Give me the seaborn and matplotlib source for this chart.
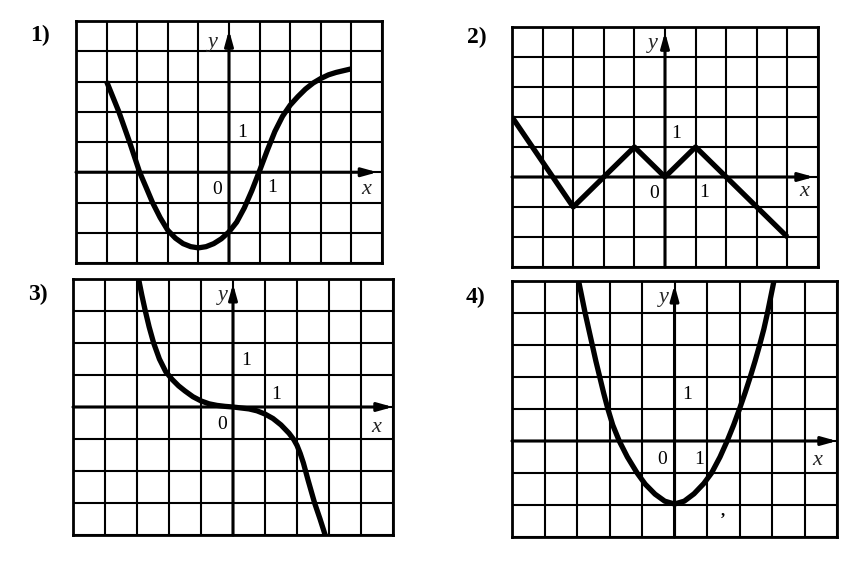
import matplotlib
matplotlib.use("Agg")
import matplotlib.pyplot as plt
import seaborn as sns

# Графики (единица = одна клетка)
p1_x = [-4.0, -3.6, -3.25, -2.92, -2.7, -2.5, -2.25, -2.0, -1.75, -1.5, -1.25, -1.0,
        -0.75, -0.5, -0.25, 0.0, 0.25, 0.5, 0.75, 1.0, 1.25, 1.5, 1.75, 2.0, 2.25,
        2.5, 2.75, 3.0, 3.25, 3.5, 3.75, 4.0]
p1_y = [3.0, 2.0, 1.0, 0.0, -0.52, -1.0, -1.5, -1.92, -2.18, -2.36, -2.46, -2.5,
        -2.46, -2.36, -2.2, -1.97, -1.65, -1.18, -0.6, 0.05, 0.72, 1.35, 1.85, 2.22, 2.5,
        2.75, 2.95, 3.1, 3.22, 3.3, 3.36, 3.42]

p2_x = [-5, -3, -1, 0, 1, 4]
p2_y = [2, -1, 1, 0, 1, -2]

p3_x = [-2.95, -2.85, -2.74, -2.62, -2.48, -2.3, -2.1, -1.9, -1.7, -1.5, -1.25, -1.0,
        -0.75, -0.5, -0.25, 0.0, 0.5, 0.75, 1.0, 1.25, 1.5, 1.75, 1.9, 2.0, 2.1, 2.2,
        2.35, 2.55, 2.72, 2.88]
p3_y = [4.0, 3.5, 3.0, 2.5, 2.0, 1.5, 1.1, 0.86, 0.66, 0.5, 0.32, 0.19,
        0.1, 0.05, 0.02, 0.0, -0.06, -0.12, -0.22, -0.36, -0.56, -0.82, -1.02, -1.2, -1.45, -1.75,
        -2.3, -3.0, -3.5, -4.0]

p4_x = [-2.95, -2.85, -2.75, -2.64, -2.53, -2.42, -2.3, -2.18, -2.05, -1.9, -1.7, -1.45,
        -1.15, -0.9, -0.6, -0.3, 0.0, 0.3, 0.6, 0.9, 1.14, 1.4, 1.62, 1.82, 2.0, 2.17,
        2.33, 2.48, 2.62, 2.75, 2.86, 2.96, 3.06]
p4_y = [5.0, 4.5, 4.0, 3.5, 3.0, 2.5, 2.0, 1.5, 1.0, 0.5, 0.0, -0.5,
        -1.0, -1.35, -1.66, -1.88, -1.97, -1.88, -1.65, -1.33, -1.0, -0.5, 0.0, 0.5, 1.0, 1.5,
        2.0, 2.5, 3.0, 3.5, 4.0, 4.5, 5.0]

panel_names = ["1)", "2)", "3)", "4)"]

sns.set_style("white")
plt.rcParams['font.family'] = ['Liberation Serif', 'DejaVu Serif']

W, H = 851, 581
fig = plt.figure(figsize=(W / 100, H / 100), dpi=100)


def make_panel(left, top, right, bottom, ylo, yhi):
    ax = fig.add_axes([left / W, 1 - bottom / H, (right - left) / W, (bottom - top) / H])
    ax.set_xlim(-5, 5)
    ax.set_ylim(ylo, yhi)
    ax.set_xticks(range(-5, 6))
    ax.set_yticks(range(ylo, yhi + 1))
    ax.grid(True, color="black", lw=1.5)
    ax.tick_params(length=0, labelbottom=False, labelleft=False)
    for s in ax.spines.values():
        s.set_color("black")
        s.set_linewidth(2)
    return ax


def axes_arrows(ax, xtip, ytip, ylo):
    arr = dict(arrowstyle="-|>,head_length=0.9,head_width=0.25", color="black",
               lw=2.2, shrinkA=0, shrinkB=0)
    ax.annotate("", xy=(xtip, 0), xytext=(-5, 0), arrowprops=arr)
    ax.annotate("", xy=(0, ytip), xytext=(0, ylo), arrowprops=arr)


def labels(ax, ypos, one_y, zero, one_x, xpos):
    kw = dict(fontsize=14, ha="center", va="center", color="black")
    ax.text(*ypos, "y", style="italic", fontsize=16, ha="center", va="center")
    ax.text(*xpos, "x", style="italic", fontsize=16, ha="center", va="center")
    ax.text(*one_y, "1", **kw)
    ax.text(*zero, "0", **kw)
    ax.text(*one_x, "1", **kw)


curve_kw = dict(color="black", lw=3.8, sort=False, estimator=None,
                solid_joinstyle="round", solid_capstyle="butt")

# 1)
ax1 = make_panel(76, 21, 382, 263, -3, 5)
axes_arrows(ax1, 4.85, 4.7, -3)
sns.lineplot(x=p1_x, y=p1_y, ax=ax1, **curve_kw)
labels(ax1, (-0.52, 4.3), (0.42, 1.3), (-0.39, -0.57), (1.4, -0.5), (4.5, -0.57))

# 2)
ax2 = make_panel(512, 27, 818, 267, -3, 5)
axes_arrows(ax2, 4.87, 4.83, -3)
sns.lineplot(x=p2_x, y=p2_y, ax=ax2, **curve_kw)
labels(ax2, (-0.4, 4.45), (0.38, 1.44), (-0.35, -0.55), (1.28, -0.53), (4.55, -0.5))

# 3)
ax3 = make_panel(73, 279, 393, 535, -4, 4)
axes_arrows(ax3, 5.0, 3.85, -4)
sns.lineplot(x=p3_x, y=p3_y, ax=ax3, **curve_kw)
labels(ax3, (-0.31, 3.47), (0.42, 1.44), (-0.34, -0.54), (1.35, 0.4), (4.48, -0.65))

# 4)
ax4 = make_panel(512, 281, 837, 537, -3, 5)
axes_arrows(ax4, 5.0, 4.88, -3)
sns.lineplot(x=p4_x, y=p4_y, ax=ax4, **curve_kw)
labels(ax4, (-0.34, 4.5), (0.38, 1.44), (-0.37, -0.57), (0.76, -0.57), (4.4, -0.6))
ax4.text(1.5, -2.2, ",", fontsize=12, fontweight="bold", ha="center", va="center", color="black")

label_pos = [(40, 35), (477, 37), (38, 294), (475, 297)]
for name, (px, py) in zip(panel_names, label_pos):
    fig.text(px / W, 1 - py / H, name, fontsize=17, fontweight="bold",
             ha="center", va="center", color="black")

fig.savefig("out.png", dpi=100, facecolor="white")
